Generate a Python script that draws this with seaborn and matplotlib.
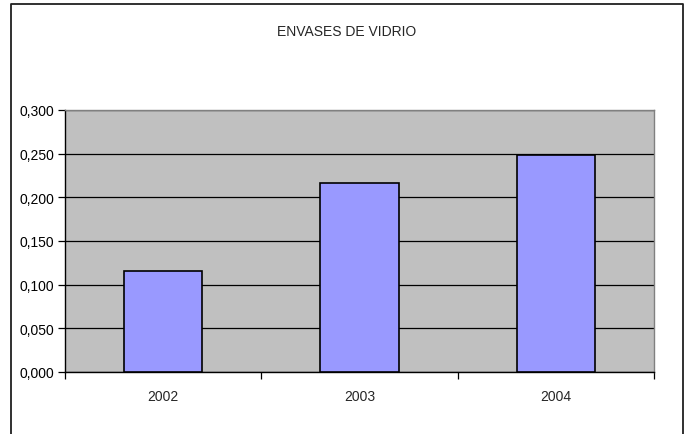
import matplotlib
matplotlib.use("Agg")
import matplotlib.pyplot as plt
import seaborn as sns
import pandas as pd
from matplotlib.ticker import FixedLocator, FuncFormatter
from matplotlib.lines import Line2D

years = ["2002", "2003", "2004"]
values = [0.116, 0.216, 0.248]
title = "ENVASES DE VIDRIO"

sns.set_style("white")
plt.rcParams["font.family"] = ["Liberation Sans", "DejaVu Sans"]

df = pd.DataFrame({"year": years, "value": values})

fig = plt.figure(figsize=(6.9, 4.35), dpi=100)
fig.patch.set_facecolor("white")
# outer chart border (open at the bottom, as in the reference crop)
xl, xr, yt = 10.5 / 690, 683 / 690, 1 - 5 / 435
fig.lines.append(Line2D([xl, xl, xr, xr], [0, yt, yt, 0], transform=fig.transFigure,
                        color="#202020", linewidth=1.3))

ax = fig.add_axes([65/690, 1 - 373/435, 589/690, 262/435])
ax.set_facecolor("#C0C0C0")

sns.barplot(data=df, x="year", y="value", ax=ax, color="#9999FF", width=0.4,
            edgecolor="black", linewidth=1.2, saturation=1, zorder=3)

ax.set_ylim(0, 0.3)
ax.set_xlim(-0.5, 2.5)
ax.set_yticks([0, 0.05, 0.1, 0.15, 0.2, 0.25, 0.3])
ax.yaxis.set_major_formatter(FuncFormatter(lambda v, p: f"{v:.3f}".replace(".", ",")))
ax.grid(axis="y", color="black", linewidth=0.9, zorder=1)
ax.set_axisbelow(True)
ax.set_xlabel("")
ax.set_ylabel("")

ax.tick_params(axis="y", which="major", direction="out", length=5, width=0.9,
               labelsize=10, colors="black", left=True, pad=3)
ax.tick_params(axis="x", which="major", length=0, labelsize=10, pad=12)
ax.xaxis.set_minor_locator(FixedLocator([-0.5, 0.5, 1.5, 2.5]))
ax.tick_params(axis="x", which="minor", direction="out", length=5, width=0.9,
               colors="black", bottom=True)

for s in ["top", "right"]:
    ax.spines[s].set_visible(True)
    ax.spines[s].set_color("#808080")
    ax.spines[s].set_linewidth(1.0)
for s in ["left", "bottom"]:
    ax.spines[s].set_color("black")
    ax.spines[s].set_linewidth(1.0)

fig.text(347/690, 1 - 32/435, title, ha="center", va="center", fontsize=10)

fig.savefig("out.png", dpi=100)
